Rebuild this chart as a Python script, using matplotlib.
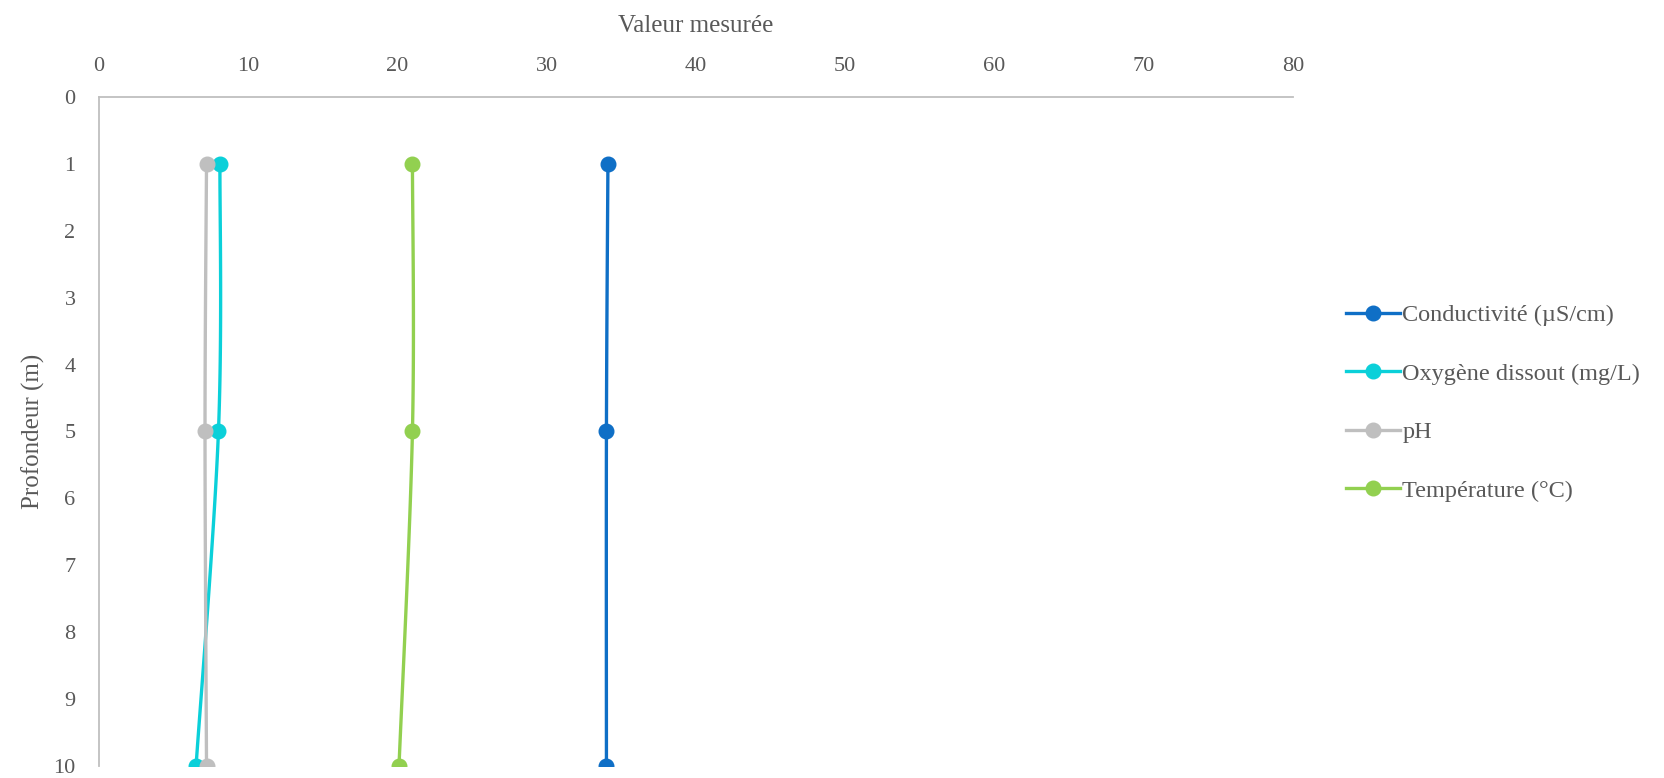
import numpy as np
import matplotlib
matplotlib.use("Agg")
import matplotlib.pyplot as plt
from matplotlib.lines import Line2D

plt.rcParams['font.family'] = ['Liberation Serif', 'DejaVu Serif']

depths = [1, 5, 10]
conductivite = [34.1, 34.0, 34.0]
oxygene = [8.1, 8.0, 6.5]
ph = [7.2, 7.1, 7.2]
temperature = [21.0, 21.0, 20.1]

series_names = ["Conductivité (µS/cm)", "Oxygène dissout (mg/L)", "pH", "Température (°C)"]
series_values = [conductivite, oxygene, ph, temperature]
series_colors = ["#0F6FC6", "#0BD0D9", "#BFBFBF", "#92D050"]

x_ticks = [0, 10, 20, 30, 40, 50, 60, 70, 80]
y_ticks = [0, 1, 2, 3, 4, 5, 6, 7, 8, 9, 10]

TEXT = "#595959"


def smooth(xs, ys, n=60):
    """Cubic Bezier smoothing through points (Catmull-Rom style)."""
    pts = np.column_stack([xs, ys]).astype(float)
    out = []
    for i in range(len(pts) - 1):
        p0 = pts[i - 1] if i > 0 else pts[i]
        p1 = pts[i]
        p2 = pts[i + 1]
        p3 = pts[i + 2] if i + 2 < len(pts) else pts[i + 1]
        c1 = p1 + (p2 - p0) / 6.0
        c2 = p2 - (p3 - p1) / 6.0
        t = np.linspace(0, 1, n)[:, None]
        seg = ((1 - t) ** 3) * p1 + 3 * ((1 - t) ** 2) * t * c1 + 3 * (1 - t) * t ** 2 * c2 + t ** 3 * p2
        out.append(seg if i == 0 else seg[1:])
    seg = np.vstack(out)
    return seg[:, 0], seg[:, 1]


fig = plt.figure(figsize=(16.65, 7.78), dpi=100)
ax = fig.add_axes([0.0595, 0.0154, 0.717, 0.86])

handles = []
for name, vals, col in zip(series_names, series_values, series_colors):
    sx, sy = smooth(vals, depths)
    ax.plot(sx, sy, color=col, lw=2.4, solid_capstyle='round', zorder=2)
    ax.plot(vals, depths, linestyle='none', marker='o', ms=10.5, color=col, zorder=3)
    handles.append(Line2D([0], [0], color=col, lw=2.4, marker='o', ms=10.5))

ax.set_xlim(0, 80)
ax.set_ylim(10, 0)
ax.set_xticks(x_ticks)
ax.set_yticks(y_ticks)
ax.xaxis.tick_top()
ax.xaxis.set_label_position('top')
ax.tick_params(axis='both', length=0, labelsize=16, colors=TEXT)
ax.tick_params(axis='x', pad=15)
ax.tick_params(axis='y', pad=17)

for s in ['right', 'bottom']:
    ax.spines[s].set_visible(False)
for s in ['top', 'left']:
    ax.spines[s].set_color('#BFBFBF')
    ax.spines[s].set_linewidth(1.3)

ax.set_xlabel("Valeur mesurée", fontsize=18, color=TEXT, labelpad=18)
ax.set_ylabel("Profondeur (m)", fontsize=18, color=TEXT, labelpad=6)

leg = fig.legend(handles, series_names, loc='center left', bbox_to_anchor=(0.7955, 0.482),
                 frameon=False, fontsize=17.5, labelcolor=TEXT, handlelength=2.2,
                 handletextpad=0.1, labelspacing=1.5)

fig.savefig("out.png", dpi=100)
